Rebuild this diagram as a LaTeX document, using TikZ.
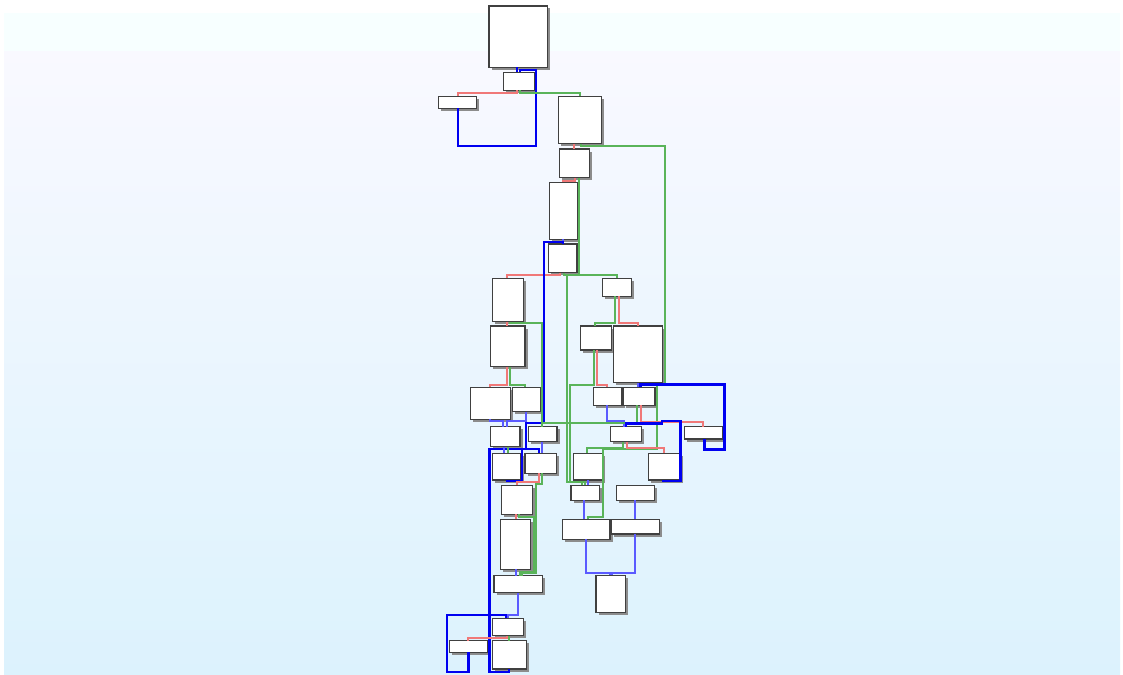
\documentclass[tikz,border=0pt]{standalone}
\usetikzlibrary{calc}
\definecolor{bgA}{HTML}{F7FFFF}
\definecolor{bgB}{HTML}{F9F9FF}
\definecolor{bgC}{HTML}{EDF7FE}
\definecolor{bgD}{HTML}{DCF2FD}
\definecolor{edR}{HTML}{F07878}
\definecolor{edG}{HTML}{5AB45A}
\definecolor{edB}{HTML}{0000F0}
\definecolor{edL}{HTML}{5A5AFF}
\tikzset{
  blk/.style={draw=black!75, fill=white, line width=1.2pt, inner sep=0pt, outer sep=0pt, anchor=north west,
    preaction={fill=black!45, transform canvas={xshift=2.5pt,yshift=-2.5pt}}},
  rd/.style={draw=edR, line width=2pt},
  gr/.style={draw=edG, line width=2pt},
  bk/.style={draw=edB, line width=2.4pt},
  lb/.style={draw=edL, line width=1.9pt},
}
\newcommand\cfgbox[5]{\node[blk, minimum width={(#4-#2)*1pt}, minimum height={(#5-#3)*1pt}] (#1) at (#2,#3) {};}
\begin{document}
\begin{tikzpicture}[x=1pt,y=-1pt]
\useasboundingbox (0,0) rectangle (1123,674);
\fill[white] (0,0) rectangle (1123,674);
\fill[bgA] (4,13) rectangle (1120,52);
\shade[top color=bgB, middle color=bgC, bottom color=bgD] (4,52) rectangle (1120,674);
% nodes
\cfgbox{n1}{489}{6}{547.5}{67.5}
\cfgbox{n2}{503.3}{72.3}{534.3}{90.3}
\cfgbox{n3}{438.3}{96.3}{476.7}{108.3}
\cfgbox{n4}{558.7}{96.3}{601.3}{143.7}
\cfgbox{n5}{559.3}{149}{589.3}{177.7}
\cfgbox{n6}{549.3}{182.3}{577.7}{239.3}
\cfgbox{n7}{548.3}{244}{577}{272.7}
\cfgbox{n8}{492.3}{278.3}{523.3}{321.5}
\cfgbox{n9}{490.3}{326}{525}{366.7}
\cfgbox{n10}{470.3}{387.3}{510.7}{419.3}
\cfgbox{n11}{512.3}{387.3}{540.7}{411.7}
\cfgbox{n12}{602.7}{278.3}{631.7}{296.3}
\cfgbox{n13}{580.3}{326}{611.7}{350}
\cfgbox{n14}{613.3}{326}{662.7}{382.7}
\cfgbox{n15}{593.3}{387.3}{622}{405.3}
\cfgbox{n16}{623.7}{387.3}{655}{405.3}
\cfgbox{n17}{490.7}{426.7}{520}{446.7}
\cfgbox{n18}{528.3}{426.7}{557}{441.7}
\cfgbox{n19}{610.7}{426.7}{641.7}{441.7}
\cfgbox{n20}{684.3}{426.7}{722.3}{439}
\cfgbox{n21}{492.3}{453.3}{521}{480}
\cfgbox{n22}{525}{453.3}{556.3}{473.3}
\cfgbox{n23}{573.3}{453.3}{602.3}{480}
\cfgbox{n24}{648.7}{453.3}{680}{480}
\cfgbox{n25}{501.7}{485.3}{532.7}{514.3}
\cfgbox{n26}{571}{485.3}{599.3}{500.3}
\cfgbox{n27}{616.7}{485.3}{654.7}{500.3}
\cfgbox{n28}{500.7}{519.3}{530.7}{569.3}
\cfgbox{n29}{562.3}{519.3}{610}{539.3}
\cfgbox{n30}{611.7}{519.3}{659.3}{534}
\cfgbox{n31}{494}{575.7}{542.3}{592.7}
\cfgbox{n32}{596}{575.3}{625.3}{612.7}
\cfgbox{n33}{492.3}{618.3}{523.3}{635.7}
\cfgbox{n34}{449.3}{640.7}{487.7}{652.3}
\cfgbox{n35}{492.3}{640.7}{526.7}{669}
% edges: top
\draw[bk] (n1.south -| 517,0) -- (n2.north -| 517,0);
\draw[bk] (n3.south -| 458,0) |- (536,145.7) |- (520,70.3) -- (n2.north -| 520,0);
\draw[rd] (n2.south -| 517,0) |- (458,92.7) -- (n3.north -| 458,0);
\draw[gr] (n2.south -| 520,0) |- (580,92.7) -- (n4.north -| 580,0);
\draw[rd] (n4.south -| 574,0) -- (n5.north -| 574,0);
\draw[gr] (n4.south -| 581,0) |- (665,145.7) |- (656.7,384) |- (603.3,449.3) |- (587.7,516.7) -- (n29.north -| 587.7,0);
\draw[rd] (n5.south -| 575,0) |- (563,180.7) -- (n6.north -| 563,0);
\draw[gr] (n5.south -| 579,0) |- (567.3,275.2) -- (567.3,481.7) -| (n26.north -| 582,0);
\draw[lb] (n6.south -| 562.7,0) -- (n7.north -| 562.7,0);
\draw[rd] (n7.south -| 560,0) |- (507,275.2) -- (n8.north -| 507,0);
\draw[gr] (n7.south -| 564,0) |- (617,275.2) -- (n12.north -| 617,0);
% left column
\draw[rd] (n8.south -| 507,0) -- (n9.north -| 507,0);
\draw[gr] (n8.south -| 509.5,0) |- (541.7,322.7) -- (n18.north -| 541.7,0);
\draw[rd] (n9.south -| 507,0) |- (490,385) -- (n10.north -| 490,0);
\draw[gr] (n9.south -| 509.5,0) |- (525,385) -- (n11.north -| 525,0);
\draw[lb] (n10.south -| 490,0) |- (502.7,420.7) -- (n17.north -| 502.7,0);
\draw[lb] (n11.south -| 525.7,0) |- (506.7,420.7) -- (n17.north -| 506.7,0);
\draw[bk] (n35.south -| 509,0) |- (489.3,671.7) |- (525.7,449) |- (543.7,422.7) |- (562.7,241.7) -- (n7.north -| 562.7,0);
\draw[bk] (n21.south -| 506.7,0) -- (506.7,481) -| (521.7,449) -| (n22.north -| 539,0);
\draw[lb] (n17.south -| 504,0) -- (n21.north -| 504,0);
\draw[gr] (n17.south -| 507.7,0) -- (n21.north -| 507.7,0);
\draw[lb] (n18.south -| 541.7,0) -- (n22.north -| 541.7,0);
\draw[rd] (n22.south -| 539,0) |- (516.7,482.3) -- (n25.north -| 516.7,0);
\draw[gr] (n22.south -| 542,0) |- (536,483.5) |- (521.5,573) -- (n31.north -| 521.5,0);
\draw[gr] (n25.south -| 518.5,0) |- (534,516.5) |- (519.5,572) -- (n31.north -| 519.5,0);
\draw[rd] (n25.south -| 516,0) -- (n28.north -| 516,0);
\draw[lb] (n28.south -| 515.7,0) -- (n31.north -| 515.7,0);
\draw[lb] (n31.south -| 518.3,0) |- (508.3,615) -- (n33.north -| 508.3,0);
\draw[bk] (n34.south -| 468.3,0) |- (446.7,671.7) |- (506,615) -- (n33.north -| 506,0);
\draw[rd] (n33.south -| 506.7,0) |- (468.3,637.7) -- (n34.north -| 468.3,0);
\draw[gr] (n33.south -| 509,0) -- (n35.north -| 509,0);
% right column
\draw[gr] (n12.south -| 615.3,0) |- (595,322.7) -- (n13.north -| 595,0);
\draw[rd] (n12.south -| 618.7,0) |- (637.7,322.7) -- (n14.north -| 637.7,0);
\draw[rd] (n13.south -| 597,0) |- (606.7,385) -- (n15.north -| 606.7,0);
\draw[gr] (n13.south -| 594,0) |- (570,385) -- (570,482) -| (n26.north -| 584.5,0);
\draw[lb] (n14.south -| 638,0) -- (n16.north -| 638,0);
\draw[bk] (n20.south -| 704.3,0) |- (724.3,449.3) |- (640.5,384.3) -- (n16.north -| 640.5,0);
\draw[lb] (n15.south -| 606.7,0) |- (624,420.7) -- (n19.north -| 624,0);
\draw[rd] (n16.south -| 641,0) |- (703.3,421.7) -- (n20.north -| 703.3,0);
\draw[gr] (n16.south -| 636.7,0) |- (541.7,423.2) -- (n18.north -| 541.7,0);
\draw[bk] (n24.south -| 663,0) |- (680.5,481) |- (661.7,421) |- (626,423.5) -- (n19.north -| 626,0);
\draw[gr] (n19.south -| 623.3,0) |- (586.7,448.3) -- (n23.north -| 586.7,0);
\draw[rd] (n19.south -| 626.7,0) |- (664,448.3) -- (n24.north -| 664,0);
\draw[lb] (n23.south -| 587.7,0) -- (n26.north -| 587.7,0);
\draw[lb] (n26.south -| 584.3,0) -- (n29.north -| 584.3,0);
\draw[lb] (n27.south -| 635,0) -- (n30.north -| 635,0);
\draw[lb] (n29.south -| 585.7,0) |- (610,572.7) -- (n32.north -| 610,0);
\draw[lb] (n30.south -| 635,0) |- (611.7,572.7) -- (n32.north -| 611.7,0);
\end{tikzpicture}
\end{document}
